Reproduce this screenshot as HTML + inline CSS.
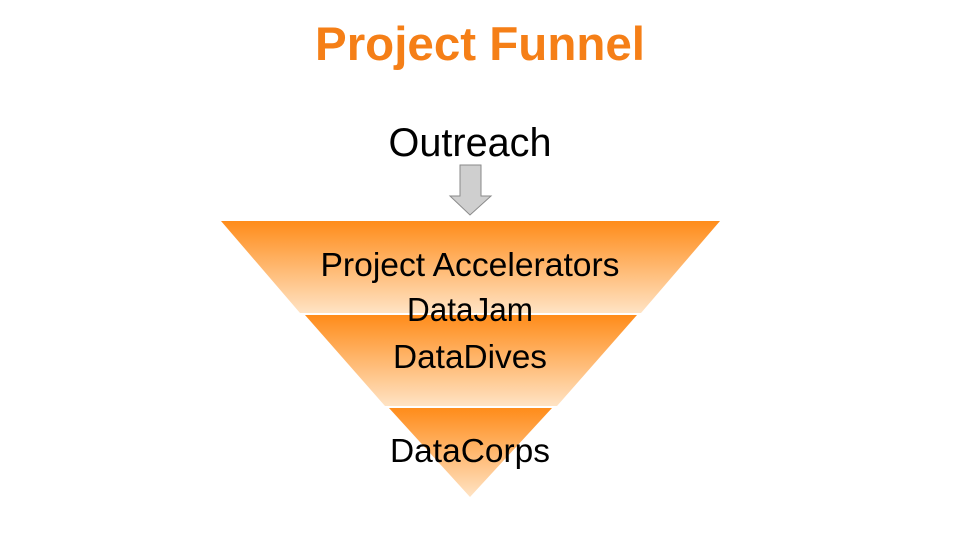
<!DOCTYPE html>
<html><head><style>body{margin:0;background:#fff}</style></head><body>
<svg width="960" height="540" xmlns="http://www.w3.org/2000/svg" style="display:block">
<defs>
<linearGradient id="g" x1="0" y1="0" x2="0" y2="1">
<stop offset="0" stop-color="#FF8C1A"/><stop offset="1" stop-color="#FFE3C4"/>
</linearGradient>
</defs>
<text x="480" y="60" text-anchor="middle" font-family="Liberation Sans, sans-serif" font-weight="bold" font-size="47" fill="#F57F17" textLength="330" lengthAdjust="spacingAndGlyphs">Project Funnel</text>
<text x="470" y="156" text-anchor="middle" font-family="Liberation Sans, sans-serif" font-size="40" fill="#000" textLength="163" lengthAdjust="spacingAndGlyphs">Outreach</text>
<polygon points="460,165 481,165 481,196 491,196 470,215 450,196 460,196" fill="#CFCFCF" stroke="#8a8a8a" stroke-width="1"/>
<polygon points="221,221 720,221 641,313 300,313" fill="url(#g)"/>
<polygon points="305,315 637,315 557,406 385,406" fill="url(#g)"/>
<polygon points="389,408 552,408 470,497" fill="url(#g)"/>
<g font-family="Liberation Sans, sans-serif" font-size="33" fill="#000" text-anchor="middle" lengthAdjust="spacingAndGlyphs">
<text x="470" y="276" textLength="299" lengthAdjust="spacingAndGlyphs">Project Accelerators</text>
<text x="470" y="321" textLength="126" lengthAdjust="spacingAndGlyphs">DataJam</text>
<text x="470" y="368" textLength="154" lengthAdjust="spacingAndGlyphs">DataDives</text>
<text x="470" y="462" textLength="160" lengthAdjust="spacingAndGlyphs">DataCorps</text>
</g>
</svg>
</body></html>
